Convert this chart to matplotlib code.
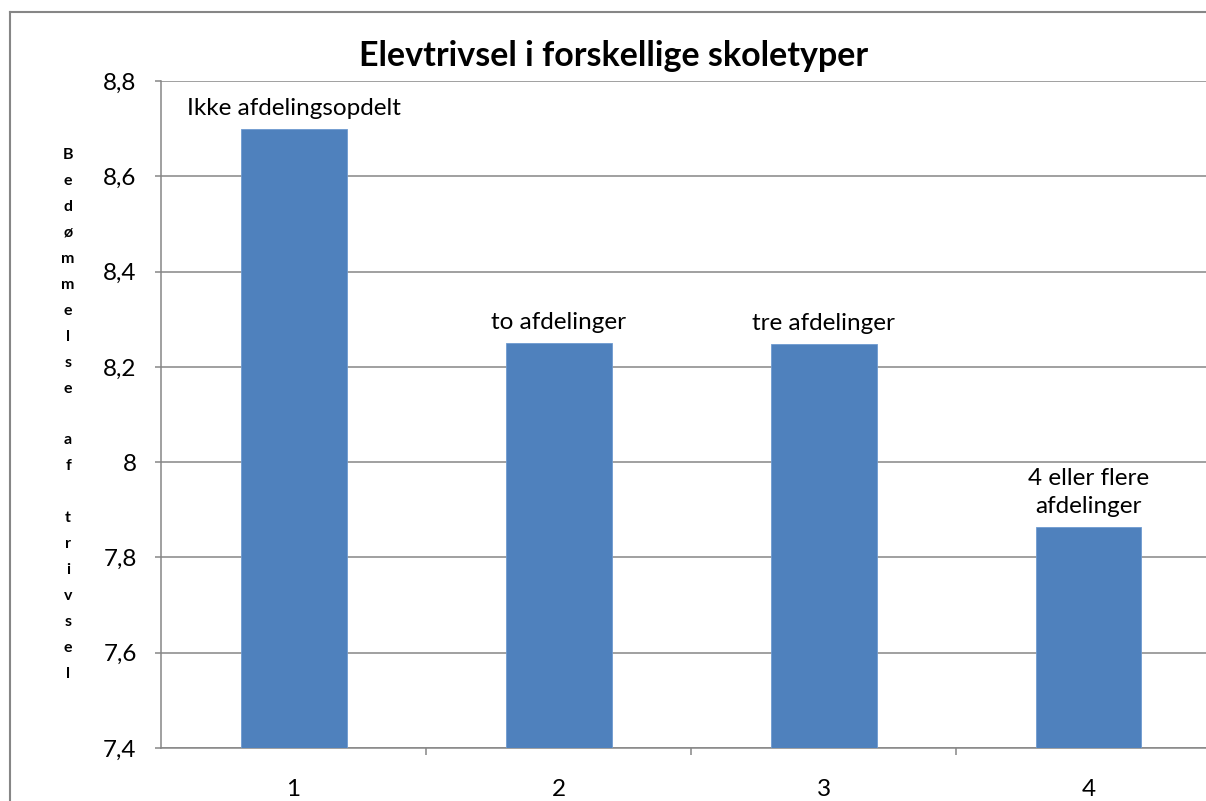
import matplotlib
matplotlib.use("Agg")
import matplotlib.pyplot as plt
from matplotlib.lines import Line2D

plt.rcParams['font.family'] = ['Lato', 'DejaVu Sans']

# data
kategorier = [1, 2, 3, 4]
vaerdier = [8.70, 8.25, 8.248, 7.864]
etiketter = ["Ikke afdelingsopdelt", "to afdelinger", "tre afdelinger", "4 eller flere\nafdelinger"]
y_ticks = [7.4, 7.6, 7.8, 8.0, 8.2, 8.4, 8.6, 8.8]
titel = "Elevtrivsel i forskellige skoletyper"
y_titel = "Bedømmelse af trivsel"

blaa = '#4F81BD'
graa = '#868686'

# the reference is cropped on the right: the plot area runs past the image edge
fig = plt.figure(figsize=(12.06, 8.01), dpi=100)
ax = fig.add_axes([161/1206, 1 - 748/801, 1045/1206, 667/801])

ax.bar(kategorier, vaerdier, width=0.4, color=blaa, edgecolor='#6f9ad0', linewidth=0.6, zorder=3)
for x, v, t in zip(kategorier, vaerdier, etiketter):
    ax.annotate(t, (x, v), xytext=(0, 7), textcoords='offset points',
                ha='center', va='bottom', fontsize=17.5, linespacing=1.45)

ax.set_ylim(7.4, 8.8)
ax.set_xlim(0.5, 0.5 + 1045/265)
ax.set_yticks(y_ticks)
ax.set_yticklabels([f"{v:g}".replace('.', ',') for v in y_ticks], fontsize=17.5)
ax.set_xticks(kategorier)
ax.set_xticklabels([str(k) for k in kategorier], fontsize=17.5)
ax.set_xticks([1.5, 2.5, 3.5], minor=True)
ax.tick_params(axis='x', which='major', length=0, pad=22)
ax.tick_params(axis='x', which='minor', length=5, width=1.1, color=graa, direction='out')
ax.tick_params(axis='y', length=4.5, width=1.1, color=graa, pad=13)

ax.grid(axis='y', color=graa, linewidth=1.1, zorder=0)
ax.set_axisbelow(True)
for s in ['top', 'right']:
    ax.spines[s].set_visible(False)
for s in ['left', 'bottom']:
    ax.spines[s].set_color(graa)
    ax.spines[s].set_linewidth(1.1)

ax.set_ylabel("\n".join(y_titel), rotation=0, fontsize=11.5, fontweight='bold',
              linespacing=2.09, va='center', ha='center')
ax.yaxis.set_label_coords(-93/1045, 0.5)

fig.text(614/1206, 1 - 56/801, titel, ha='center', va='center', fontsize=24.5, fontweight='bold')

# chart area border (cropped at the right and bottom in the reference)
kx = 9.5/1206
ky = 1 - 11.5/801
fig.add_artist(Line2D([kx, 1.0], [ky, ky], transform=fig.transFigure, color=graa, linewidth=1.5))
fig.add_artist(Line2D([kx, kx], [0.0, ky], transform=fig.transFigure, color=graa, linewidth=1.5))

fig.savefig("out.png", dpi=100)
